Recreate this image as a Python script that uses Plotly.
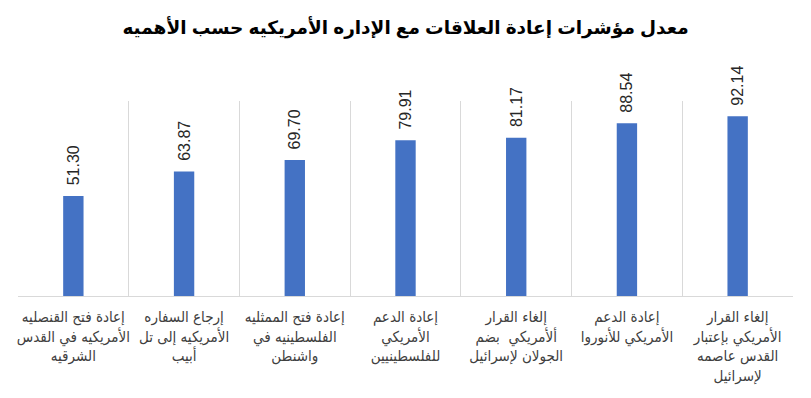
import plotly.graph_objects as go

title_text = "معدل مؤشرات إعادة العلاقات مع الإداره الأمريكيه حسب الأهميه"

categories = [
    "إعادة فتح القنصليه<br>الأمريكيه في القدس<br>الشرقيه",
    "إرجاع السفاره<br>الأمريكيه إلى تل<br>أبيب",
    "إعادة فتح الممثليه<br>الفلسطينيه في<br>واشنطن",
    "إعادة الدعم<br>الأمريكي<br>للفلسطينيين",
    "إلغاء القرار<br>ألأمريكي  بضم<br>الجولان لإسرائيل",
    "إعادة الدعم<br>الأمريكي للأنوروا",
    "إلغاء القرار<br>الأمريكي بإعتبار<br>القدس عاصمه<br>لإسرائيل",
]
values = [51.30, 63.87, 69.70, 79.91, 81.17, 88.54, 92.14]

fig = go.Figure()
fig.add_trace(go.Bar(
    x=categories,
    y=values,
    marker=dict(color="#4472C4", line=dict(width=0)),
    texttemplate="\u00a0\u2009%{y:.2f}",
    textposition="outside",
    textangle=-90,
    textfont=dict(family="Arial, Liberation Sans, sans-serif", size=16, color="#262626"),
    constraintext="none",
    cliponaxis=False,
    hoverinfo="skip",
))

fig.update_layout(
    width=811,
    height=398,
    margin=dict(l=18, r=18, t=101, b=102, autoexpand=False),
    paper_bgcolor="white",
    plot_bgcolor="white",
    bargap=0.816,
    showlegend=False,
    title=dict(
        text="<b>" + title_text + "</b>",
        x=0.5,
        xanchor="center",
        xref="paper",
        y=1 - 28 / 398,
        yref="container",
        yanchor="middle",
        font=dict(family="Arial, Liberation Sans, DejaVu Sans, sans-serif", size=18.5, color="#000000"),
    ),
    font=dict(family="Arial, Liberation Sans, DejaVu Sans, sans-serif"),
)

fig.update_xaxes(
    type="category",
    tickson="boundaries",
    automargin=False,
    showgrid=True,
    gridcolor="#D9D9D9",
    gridwidth=1,
    showline=True,
    linecolor="#D9D9D9",
    linewidth=1,
    ticks="",
    tickangle=0,
    ticklabelstandoff=7,
    tickfont=dict(family="DejaVu Sans Condensed, DejaVu Sans, sans-serif", size=15, color="#404040"),
)
fig.update_yaxes(
    range=[0, 100],
    visible=False,
    showgrid=False,
    zeroline=False,
    automargin=False,
)

fig.write_html(
    "out.html",
    config={"displayModeBar": False, "staticPlot": True},
    post_script="document.body.style.margin='0';document.body.style.overflow='hidden';",
)
